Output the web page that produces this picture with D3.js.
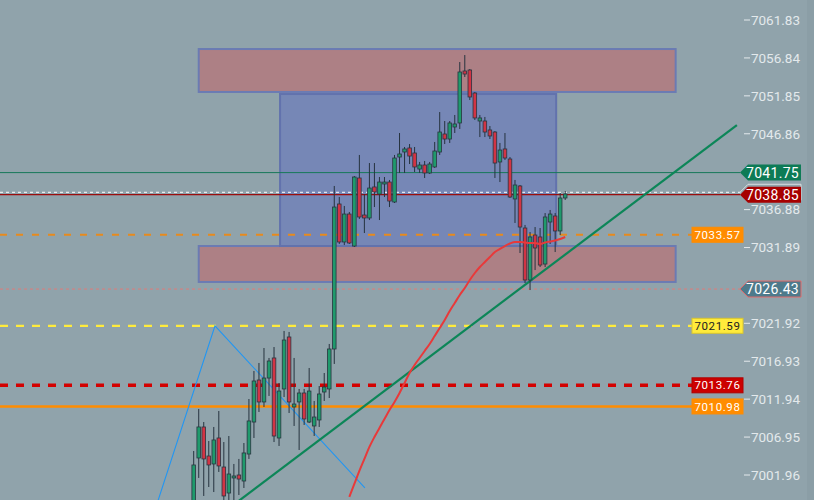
<!DOCTYPE html>
<html>
<head>
<meta charset="utf-8">
<script src="https://cdn.jsdelivr.net/npm/d3@7"></script>
<style>
  html,body{margin:0;padding:0;background:#90a3ab;}
  svg{display:block;font-family:Roboto, "DejaVu Sans", sans-serif;}
</style>
</head>
<body>
<svg id="chart" width="814" height="500"></svg>
<script>
(function(){

const WIDTH = 814, HEIGHT = 500;

// candles, index 0..74 (open, high, low, close)
const OPEN  = [6998.01,7004.20,7008.28,7004.46,7003.41,7006.83,7003.01,6999.59,7001.57,7001.96,
               7001.17,7004.72,7008.93,7014.46,7011.57,7014.72,7017.36,7006.83,7013.28,7020.12,
               7010.91,7011.57,7012.75,7008.93,7008.41,7009.20,7012.88,7013.28,7018.54,7037.62,
               7032.62,7036.30,7032.09,7041.04,7036.17,7035.78,7039.86,7038.93,7040.25,7040.51,
               7037.88,7043.80,7044.46,7044.99,7044.33,7042.22,7042.75,7041.70,7042.49,7044.46,
               7046.83,7046.17,7047.75,7048.28,7055.12,7055.25,7052.22,7048.54,7048.54,7047.36,
               7047.09,7043.15,7044.86,7043.54,7038.28,7039.99,7034.46,7027.62,7033.54,7033.28,
               7029.72,7035.25,7036.04,7034.07,7038.41];
const HIGH  = [7005.12,7010.65,7008.93,7006.43,7008.28,7010.38,7006.30,7007.09,7003.41,7004.07,
               7006.17,7011.96,7015.65,7016.70,7018.67,7017.36,7018.80,7014.07,7020.91,7020.78,
               7017.36,7013.28,7013.28,7016.04,7011.70,7013.67,7015.38,7019.20,7039.99,7038.54,
               7037.36,7036.57,7041.30,7044.07,7038.93,7043.01,7043.01,7041.17,7041.17,7040.78,
               7044.07,7046.96,7045.12,7045.51,7045.12,7043.15,7043.28,7043.15,7045.78,7049.72,
               7048.54,7048.54,7049.33,7056.30,7057.22,7055.38,7052.36,7049.33,7049.07,7047.88,
               7047.22,7045.65,7046.96,7043.80,7040.78,7040.12,7034.86,7033.93,7034.59,7034.46,
               7036.43,7036.83,7036.43,7039.07,7039.33];
const LOW   = [6997.36,7001.57,6999.20,7000.38,6999.72,7002.36,6998.01,6998.41,6998.28,6999.33,
               7000.25,7004.07,7006.83,7010.25,7010.91,7012.36,7006.30,7005.78,7012.22,7010.12,
               7008.41,7005.25,7008.54,7008.80,7007.09,7008.28,7011.70,7012.09,7016.57,7032.36,
               7032.22,7032.36,7031.96,7035.65,7033.80,7035.51,7037.22,7035.51,7038.54,7037.22,
               7037.75,7041.70,7041.70,7042.88,7041.83,7041.70,7041.04,7041.57,7042.36,7044.07,
               7045.51,7045.65,7046.96,7047.49,7054.33,7051.30,7048.67,7046.43,7046.43,7046.17,
               7041.04,7040.51,7043.41,7038.41,7035.12,7031.17,7027.22,7026.30,7028.93,7029.33,
               7029.33,7032.36,7031.30,7033.54,7038.15];
const CLOSE = [7003.28,7008.28,7004.07,7003.28,7006.57,7003.15,6999.20,7002.09,7001.83,7001.43,
               7004.86,7009.07,7014.33,7011.57,7014.72,7016.96,7007.09,7013.01,7019.72,7011.57,
               7011.30,7012.75,7009.33,7013.01,7009.59,7012.62,7013.54,7018.54,7037.22,7032.62,
               7036.30,7032.49,7041.17,7035.91,7035.78,7039.72,7039.20,7040.51,7040.51,7038.01,
               7043.67,7044.20,7044.86,7043.93,7042.49,7042.75,7041.70,7042.88,7044.59,7047.09,
               7046.17,7048.28,7048.15,7054.99,7054.72,7051.70,7048.94,7048.94,7047.09,7046.57,
               7043.01,7044.72,7043.67,7038.54,7040.12,7034.59,7027.62,7033.28,7031.83,7029.59,
               7035.91,7036.30,7034.07,7038.41,7038.93];

// moving average, starts at candle 31
const MA_START = 31;
const MA = [6999.07,7000.78,7002.49,7004.07,7005.65,7006.96,7008.15,7009.33,7010.51,7011.57,
            7012.75,7014.07,7015.38,7016.44,7017.36,7018.28,7019.20,7020.25,7021.30,7022.36,
            7023.54,7024.59,7025.65,7026.57,7027.62,7028.54,7029.33,7029.99,7030.65,7031.30,
            7031.70,7032.09,7032.42,7032.62,7032.62,7032.55,7032.49,7032.49,7032.36,7032.55,
            7032.68,7032.81,7033.01,7033.28];

// price axis ticks
const TICKS = [7061.83,7056.84,7051.85,7046.86,7041.87,7036.88,7031.89,7026.90,7021.92,7016.93,7011.94,7006.95,7001.96];

// zones: [fromIndex, toIndex, top, bottom]
const SUPPLY_ZONE = [1, 96, 7058.01, 7052.36];
const RANGE_ZONE  = [17.2, 72.2, 7052.09, 7032.09];
const DEMAND_ZONE = [1, 96, 7032.09, 7027.36];

// drawings: [index, price]
const TREND_LINE = [[0, 6994.08], [108.2, 7048.01]];
const ZIGZAG = [[-8, 6996.78], [4.24, 7021.59], [34.1, 7000.25]];

// price levels
const LVL_TP = 7041.75, LVL_BID = 7038.85, LVL_ASK = 7039.16;
const LVL_ORANGE_D = 7033.57, LVL_PREV = 7026.43, LVL_YELLOW = 7021.59, LVL_RED = 7013.76, LVL_ORANGE = 7010.98;

const x = d3.scaleLinear().domain([0, 74]).range([193.7, 565.2]);
const y = d3.scaleLinear().domain([7001.96, 7061.83]).range([475, 20]);

const svg = d3.select('#chart');
svg.append('rect').attr('width', WIDTH).attr('height', HEIGHT).attr('fill', '#90a3ab');
svg.append('rect').attr('x', 807).attr('width', 7).attr('height', HEIGHT).attr('fill', '#8b9ea6');

svg.append('defs').append('clipPath').attr('id', 'plot')
  .append('rect').attr('x', 0).attr('y', 0).attr('width', 740).attr('height', HEIGHT);

const plot = svg.append('g').attr('clip-path', 'url(#plot)');

// zones
function zone(z, fill, stroke){
  plot.append('rect')
    .attr('x', x(z[0])).attr('y', y(z[2]))
    .attr('width', x(z[1]) - x(z[0])).attr('height', y(z[3]) - y(z[2]))
    .attr('fill', fill).attr('stroke', stroke).attr('stroke-width', 2);
}
zone(SUPPLY_ZONE, '#ad8085', '#6b7bb3');
zone(DEMAND_ZONE, '#ad8085', '#6b7bb3');
zone(RANGE_ZONE, '#7687b6', '#6272ad');

// horizontal levels
function hline(v, x2, color, w, dash){
  plot.append('line')
    .attr('x1', 0).attr('x2', x2).attr('y1', y(v)).attr('y2', y(v))
    .attr('stroke', color).attr('stroke-width', w)
    .attr('stroke-dasharray', dash || null);
}
hline(LVL_TP, 740, '#17795a', 1);
hline(LVL_BID, 740, '#9a0d0d', 1.2);
hline(LVL_ASK, 740, '#ffffff', 1, '3,3');
hline(LVL_ORANGE_D, 740, '#e88a1c', 2, '7,9');
hline(LVL_PREV, 740, '#e07a78', 1, '3,3');
hline(LVL_YELLOW, 700, '#ffeb3b', 2.2, '8,8');
hline(LVL_RED, 700, '#d40000', 3.5, '8,8');
hline(LVL_ORANGE, 700, '#ff8c00', 2.5);

// trend line and zigzag
const line = d3.line().x(d => x(d[0])).y(d => y(d[1]));
plot.append('path').attr('d', line(ZIGZAG))
  .attr('fill', 'none').attr('stroke', '#2196f3').attr('stroke-width', 1.1);
plot.append('path').attr('d', line(TREND_LINE))
  .attr('fill', 'none').attr('stroke', '#0c8658').attr('stroke-width', 2.2);

// candles
const candles = OPEN.map((o, i) => ({i, o, h: HIGH[i], l: LOW[i], c: CLOSE[i]}));
const cg = plot.append('g');
cg.selectAll('line.wick').data(candles).join('line')
  .attr('class', 'wick')
  .attr('x1', d => x(d.i)).attr('x2', d => x(d.i))
  .attr('y1', d => y(d.h)).attr('y2', d => y(d.l))
  .attr('stroke', '#26333f').attr('stroke-width', 1);
cg.selectAll('rect.body').data(candles).join('rect')
  .attr('class', 'body')
  .attr('x', d => x(d.i) - 1.8).attr('width', 3.6)
  .attr('y', d => y(Math.max(d.o, d.c)))
  .attr('height', d => Math.max(1.5, Math.abs(y(d.o) - y(d.c))))
  .attr('fill', d => d.c >= d.o ? '#1f9a6c' : '#d23444')
  .attr('stroke', '#2a3540').attr('stroke-width', 0.8);

// moving average
const maLine = d3.line().x((d, k) => x(MA_START + k)).y(d => y(d)).curve(d3.curveMonotoneX);
plot.append('path').attr('d', maLine(MA))
  .attr('fill', 'none').attr('stroke', '#e8393a').attr('stroke-width', 2);

// axis ticks (labels hidden behind a price tag are not drawn)
const TAGGED = [LVL_TP, LVL_BID, LVL_PREV];
const axis = svg.append('g');
TICKS.filter(t => !TAGGED.some(v => Math.abs(y(v) - y(t)) < 9)).forEach(t => {
  axis.append('line').attr('x1', 744).attr('x2', 750).attr('y1', y(t)).attr('y2', y(t))
    .attr('stroke', '#e3e9ec').attr('stroke-width', 1);
  axis.append('text').attr('x', 800).attr('y', y(t)).attr('dy', '0.36em')
    .attr('text-anchor', 'end').attr('fill', '#e3e9ec').attr('font-size', 13.5)
    .text(t.toFixed(2));
});

// price tags with arrow
function tag(v, fill, stroke, txtColor){
  const cy = y(v);
  svg.append('path')
    .attr('d', `M740,${cy} L748,${cy-8} L801,${cy-8} L801,${cy+8} L748,${cy+8} Z`)
    .attr('fill', fill).attr('stroke', stroke || 'none').attr('stroke-width', 1);
  if(txtColor) svg.append('text').attr('x', 799).attr('y', cy).attr('dy', '0.36em')
    .attr('text-anchor', 'end').attr('fill', txtColor).attr('font-size', 14)
    .attr('letter-spacing', 0.3).text(v.toFixed(2));
}
tag(LVL_ASK, '#90a3ab', '#d8dee0', null);
tag(LVL_TP, '#0d7b56', null, '#ffffff');
tag(LVL_BID, '#a60000', null, '#ffffff');
tag(LVL_PREV, '#4e7a8b', '#e26a6a', '#ffffff');

// flat labels for drawn levels
function flat(v, fill, stroke, txtColor){
  const cy = y(v);
  svg.append('rect').attr('x', 692).attr('y', cy - 7.5).attr('width', 51).attr('height', 15)
    .attr('fill', fill).attr('stroke', stroke).attr('stroke-width', 1);
  svg.append('text').attr('x', 717.5).attr('y', cy).attr('dy', '0.36em')
    .attr('text-anchor', 'middle').attr('fill', txtColor).attr('font-size', 11.5)
    .attr('letter-spacing', 0.6).text(v.toFixed(2));
}
flat(LVL_ORANGE_D, '#ff8c00', '#ff8c00', '#ffffff');
flat(LVL_YELLOW, '#ffeb3b', '#d8c630', '#222222');
flat(LVL_RED, '#cc0000', '#b00000', '#ffffff');
flat(LVL_ORANGE, '#ff8c00', '#ff8c00', '#ffffff');

})();
</script>
</body>
</html>
